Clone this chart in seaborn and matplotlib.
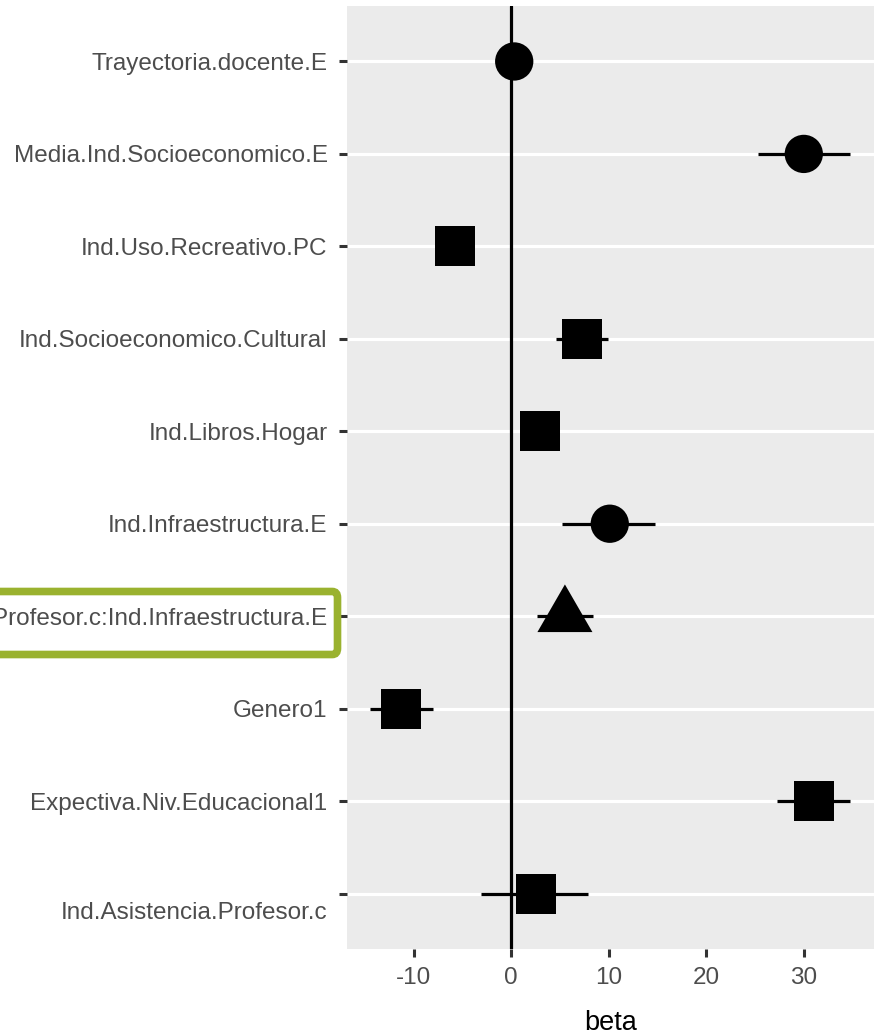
import numpy as np
import pandas as pd
import matplotlib
matplotlib.use("Agg")
import matplotlib.pyplot as plt
import matplotlib.transforms as mtransforms
from matplotlib.patches import FancyBboxPatch
from matplotlib.path import Path
import seaborn as sns

# Coefficients, listed top to bottom
terms = [
    "Trayectoria.docente.E",
    "Media.Ind.Socioeconomico.E",
    "Ind.Uso.Recreativo.PC",
    "Ind.Socioeconomico.Cultural",
    "Ind.Libros.Hogar",
    "Ind.Infraestructura.E",
    "Profesor.c:Ind.Infraestructura.E",
    "Genero1",
    "Expectiva.Niv.Educacional1",
    "Ind.Asistencia.Profesor.c",
]
beta = [0.3, 30.0, -5.8, 7.3, 2.9, 10.1, 5.5, -11.3, 31.0, 2.5]
lower = [0.0, 25.3, -6.5, 4.6, 2.4, 5.2, 2.6, -14.5, 27.3, -3.1]
upper = [0.6, 34.7, -5.1, 9.9, 3.4, 14.7, 8.4, -8.0, 34.7, 7.9]
level = ["Escuela", "Escuela", "Alumno", "Alumno", "Alumno", "Escuela",
         "Interaccion", "Alumno", "Alumno", "Alumno"]

df = pd.DataFrame({"term": terms, "beta": beta, "lower": lower,
                   "upper": upper, "level": level})
df["pos"] = np.arange(len(terms))[::-1]

# Equilateral triangle with its centroid at the origin
tri = Path([(0, 0.577), (-0.5, -0.289), (0.5, -0.289), (0, 0.577)],
           [Path.MOVETO, Path.LINETO, Path.LINETO, Path.CLOSEPOLY])

sns.set_theme(style="darkgrid")
plt.rcParams["font.family"] = ["Liberation Sans", "DejaVu Sans"]

fig = plt.figure(figsize=(8.74, 10.36), dpi=100)
ax = fig.add_axes([347 / 874, 87 / 1036, 1 - 347 / 874, (949 - 6) / 1036])
ax.set_facecolor("#EBEBEB")

ax.set_xlim(-16.85, 37.2)
ax.set_ylim(-0.6, len(terms) - 0.4)

ax.grid(False)
for p in df["pos"]:
    ax.axhline(p, color="white", lw=2.3, zorder=0)

ax.axvline(0, color="black", lw=2.3, zorder=1)
ax.hlines(df["pos"], df["lower"], df["upper"], color="black", lw=2.3, zorder=2)

sns.scatterplot(data=df, x="beta", y="pos", style="level", size="level",
                markers={"Escuela": "o", "Alumno": "s", "Interaccion": tri},
                sizes={"Escuela": 760, "Alumno": 830, "Interaccion": 2090},
                color="black", linewidth=0, legend=False, ax=ax, zorder=3)

for s in ax.spines.values():
    s.set_visible(False)

ax.set_yticks(df["pos"])
ax.set_yticklabels(df["term"])
ax.set_xticks([-10, 0, 10, 20, 30])
ax.set_xticklabels(["-10", "0", "10", "20", "30"])
ax.tick_params(axis="both", which="major", length=6, width=2.2,
               color="#333333", labelcolor="#4D4D4D", labelsize=17.5,
               left=True, bottom=True)
ax.tick_params(axis="y", pad=8)
ax.tick_params(axis="x", pad=7)
ax.set_ylabel("")
ax.set_xlabel("beta", fontsize=19.5, color="black", labelpad=15)

# Lower the last label slightly below its tick
for lbl in ax.get_yticklabels():
    if lbl.get_text() == "Ind.Asistencia.Profesor.c":
        lbl.set_transform(lbl.get_transform() +
                          mtransforms.ScaledTranslation(0, -0.17, fig.dpi_scale_trans))

# Highlight box around the interaction term label
box = FancyBboxPatch((-20 / 874, 381.5 / 1036), 357.5 / 874, 63 / 1036,
                     boxstyle="round,pad=0,rounding_size=0.006",
                     transform=fig.transFigure, fill=False,
                     edgecolor="#9AB22F", lw=5.5, clip_on=False)
fig.patches.append(box)

fig.savefig("out.png", dpi=100)
